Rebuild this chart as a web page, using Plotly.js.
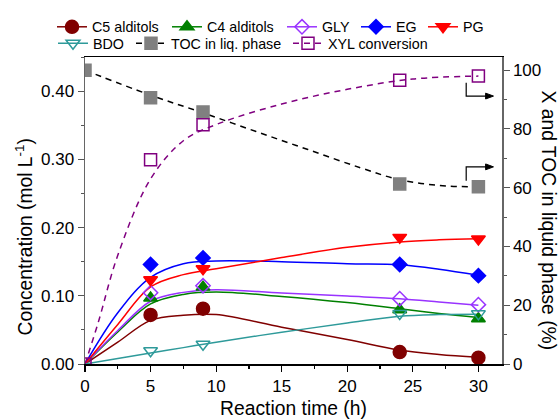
<!DOCTYPE html>
<html>
<head>
<meta charset="utf-8">
<script src="https://cdn.plot.ly/plotly-3.0.1.min.js"></script>
<style>html,body{margin:0;padding:0;background:#fff}#chart{width:560px;height:420px}</style>
</head>
<body>
<div id="chart"></div>
<script>
// ---- measured data (markers) ----
var timeH = [5, 9, 24, 30];
var c5Alditols = [0.072, 0.081, 0.0175, 0.0092];
var c4Alditols = [0.0966, 0.1127, 0.0797, 0.0663];
var glyConc = [0.1045, 0.1147, 0.0957, 0.087];
var egConc = [0.1458, 0.1555, 0.1458, 0.1295];
var pgConc = [0.1235, 0.1395, 0.1856, 0.1832];
var bdoConc = [0.0194, 0.029, 0.0739, 0.0735];
var pctTime = [0, 5, 9, 24, 30];
var tocLiq = [100, 90.6, 85.8, 61.3, 60.3];
var xylConv = [0, 69.5, 81.4, 96.6, 98];

// ---- fitted curves ----
var fitTime = [0, 2.5, 5, 7.5, 10, 15, 20, 24, 27, 30];
var c5Fit = [0, 0.032, 0.064, 0.0715, 0.0725, 0.054, 0.036, 0.0204, 0.014, 0.0098];
var c4Fit = [0, 0.047, 0.088, 0.102, 0.1055, 0.099, 0.090, 0.081, 0.074, 0.068];
var glyFit = [0, 0.049, 0.092, 0.105, 0.109, 0.104, 0.0995, 0.0957, 0.091, 0.086];
var egFit = [0, 0.075, 0.127, 0.147, 0.151, 0.150, 0.147, 0.1455, 0.139, 0.130];
var pgFit = [0, 0.058, 0.113, 0.131, 0.1395, 0.156, 0.171, 0.179, 0.182, 0.1835];
var bdoFit = [0, 0.008, 0.016, 0.024, 0.032, 0.0465, 0.060, 0.070, 0.0725, 0.073];
var pctFitTime = [0, 1, 2.5, 5, 7.5, 10, 15, 20, 25, 30];
var xylFit = [0, 14, 37, 63, 76, 81.5, 88.5, 93.5, 97, 98];
var tocFitTime = [0, 5, 9, 13, 17, 21, 24, 27, 30];
var tocFit = [100, 91.5, 85.5, 79.2, 73, 66.8, 62.7, 60.8, 60.3];

var seriesNames = ['C5 alditols', 'C4 alditols', 'GLY', 'EG', 'PG', 'BDO', 'TOC in liq. phase', 'XYL conversion'];

// interleave nulls so the legend shows line+marker without lines between points
function gapped(arr) {
  var out = [];
  arr.forEach(function (v, i) { if (i) out.push(null); out.push(v); });
  return out;
}

var specs = [
  {name: seriesNames[0], x: timeH, y: c5Alditols, fx: fitTime, fy: c5Fit, color: '#800000', mcolor: '#800000', symbol: 'circle', size: 13, yaxis: 'y', dash: 'solid'},
  {name: seriesNames[1], x: timeH, y: c4Alditols, fx: fitTime, fy: c4Fit, color: '#008000', mcolor: '#008000', symbol: 'triangle-up', size: 12, yaxis: 'y', dash: 'solid'},
  {name: seriesNames[2], x: timeH, y: glyConc, fx: fitTime, fy: glyFit, color: '#9933ff', mcolor: '#9933ff', symbol: 'diamond-open', size: 11, yaxis: 'y', dash: 'solid'},
  {name: seriesNames[3], x: timeH, y: egConc, fx: fitTime, fy: egFit, color: '#0000ff', mcolor: '#0000ff', symbol: 'diamond', size: 11, yaxis: 'y', dash: 'solid'},
  {name: seriesNames[4], x: timeH, y: pgConc, fx: fitTime, fy: pgFit, color: '#ff0000', mcolor: '#ff0000', symbol: 'triangle-down', size: 12, yaxis: 'y', dash: 'solid'},
  {name: seriesNames[5], x: timeH, y: bdoConc, fx: fitTime, fy: bdoFit, color: '#2e9a9a', mcolor: '#2e9a9a', symbol: 'triangle-down-open', size: 12, yaxis: 'y', dash: 'solid'},
  {name: seriesNames[6], x: pctTime, y: tocLiq, fx: tocFitTime, fy: tocFit, color: '#000000', mcolor: '#808080', symbol: 'square', size: 12, yaxis: 'y2', dash: '6px,5px'},
  {name: seriesNames[7], x: pctTime, y: xylConv, fx: pctFitTime, fy: xylFit, color: '#800080', mcolor: '#800080', symbol: 'square-open', size: 12, yaxis: 'y2', dash: '6px,5px'}
];

// legend entry placement (symbol centre px, row anchor px)
var legendSymbolX = [72, 187, 302, 376, 443, 73, 151, 308];
var legendRowY = [27, 27, 27, 27, 27, 43.5, 43.5, 43.5];

var M = {l: 85, r: 58, t: 56, b: 56};
var W = 560, H = 420;
var plotW = W - M.l - M.r, plotH = H - M.t - M.b;

var traces = [];
specs.forEach(function (s) {
  traces.push({
    type: 'scatter', mode: 'lines', x: s.fx, y: s.fy, yaxis: s.yaxis,
    line: {color: s.color, width: 1.5, shape: 'spline', smoothing: 1, dash: s.dash},
    showlegend: false, hoverinfo: 'skip'
  });
});
specs.forEach(function (s, i) {
  traces.push({
    type: 'scatter', mode: 'lines+markers', name: s.name,
    x: gapped(s.x), y: gapped(s.y), yaxis: s.yaxis, connectgaps: false,
    legend: i === 0 ? 'legend' : 'legend' + (i + 1),
    line: {color: s.color, width: 1.5, dash: s.dash},
    marker: {symbol: s.symbol, size: s.size, color: s.mcolor, line: {color: s.mcolor, width: 1.5}}
  });
});

var font = 'Liberation Sans, Arial, sans-serif';
var layout = {
  width: W, height: H,
  margin: M,
  paper_bgcolor: '#fff', plot_bgcolor: '#fff',
  font: {family: font, size: 16, color: '#000'},
  xaxis: {
    range: [0, 31.8], tick0: 0, dtick: 5, ticks: 'outside', ticklen: 6, tickwidth: 1.2,
    tickcolor: '#000', showline: true, linecolor: '#000', linewidth: 1.5, mirror: true,
    showgrid: false, zeroline: false,
    minor: {dtick: 2.5, ticks: 'outside', ticklen: 3, tickcolor: '#000', showgrid: false},
    tickfont: {size: 17},
    title: {text: 'Reaction time (h)', font: {size: 19.3}, standoff: 6}
  },
  yaxis: {
    range: [0, 0.45], tick0: 0, dtick: 0.1, tickformat: '.2f', ticks: 'outside', ticklen: 6,
    tickcolor: '#555', showline: true, linecolor: '#666', linewidth: 1.5,
    showgrid: false, zeroline: false,
    minor: {dtick: 0.05, ticks: 'outside', ticklen: 3, tickcolor: '#555', showgrid: false},
    tickfont: {size: 17}
  },
  yaxis2: {
    range: [0, 104.5], tick0: 0, dtick: 20, overlaying: 'y', side: 'right', ticks: 'outside', ticklen: 6,
    tickcolor: '#555', showline: true, linecolor: '#666', linewidth: 1.5,
    showgrid: false, zeroline: false,
    minor: {dtick: 10, ticks: 'outside', ticklen: 3, tickcolor: '#555', showgrid: false},
    tickfont: {size: 17}
  },
  shapes: [
    {type: 'path', xref: 'x', yref: 'y2', path: 'M29.07,95.7 L29.07,91.2 L30.7,91.2', line: {color: '#000', width: 1.2}},
    {type: 'path', xref: 'x', yref: 'y2', path: 'M30.55,92.2 L31.15,91.2 L30.55,90.2 Z', fillcolor: '#000', line: {color: '#000', width: 1}},
    {type: 'path', xref: 'x', yref: 'y2', path: 'M29.07,62.4 L29.07,67.1 L30.7,67.1', line: {color: '#000', width: 1.2}},
    {type: 'path', xref: 'x', yref: 'y2', path: 'M30.55,68.1 L31.15,67.1 L30.55,66.1 Z', fillcolor: '#000', line: {color: '#000', width: 1}}
  ],
  annotations: [
    {xref: 'paper', yref: 'paper', x: (24 - M.l) / plotW, y: (H - M.b - 237) / plotH, xanchor: 'center', yanchor: 'middle',
     text: 'Concentration (mol L<sup>-1</sup>)', textangle: -90, showarrow: false, font: {size: 19.3}},
    {xref: 'paper', yref: 'paper', x: (549 - M.l) / plotW, y: (H - M.b - 220) / plotH, xanchor: 'center', yanchor: 'middle',
     text: 'X and TOC in liquid phase (%)', textangle: 90, showarrow: false, font: {size: 19.3}}
  ]
};

legendSymbolX.forEach(function (px, i) {
  var key = i === 0 ? 'legend' : 'legend' + (i + 1);
  layout[key] = {
    orientation: 'h', xanchor: 'left', yanchor: 'middle',
    x: (px - 20 - M.l) / plotW, y: 1 + (M.t - legendRowY[i]) / plotH,
    font: {size: 14.3}, bgcolor: 'rgba(0,0,0,0)', itemwidth: 30, borderwidth: 0
  };
});

Plotly.newPlot('chart', traces, layout, {displayModeBar: false, staticPlot: true});
</script>
</body>
</html>
